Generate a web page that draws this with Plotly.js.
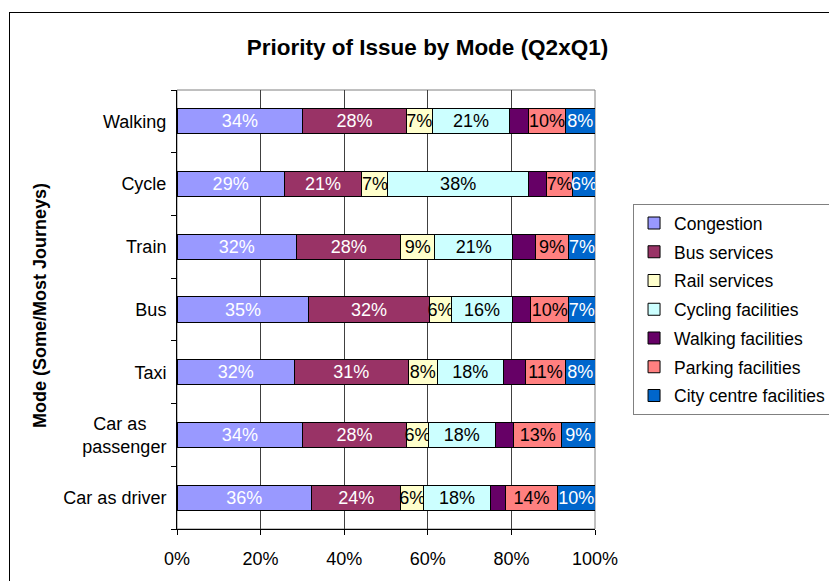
<!DOCTYPE html>
<html>
<head>
<meta charset="utf-8">
<script src="https://cdn.plot.ly/plotly-3.0.1.min.js"></script>
<style>
  html, body { margin: 0; padding: 0; overflow: hidden; background: #fff; }
  #chart { width: 829px; height: 581px; position: absolute; left: 0; top: 0; }
  #frame { position: absolute; left: 9px; top: 12px; width: 1000px; height: 1000px;
           border: 1px solid #000; pointer-events: none; z-index: 10; }
</style>
</head>
<body>
<div id="chart"></div>
<div id="frame"></div>
<script>
// Categories (bottom to top)
const modes = ['Car as driver', 'Car as\u00a0\u00a0\u00a0\u00a0<br>passenger', 'Taxi', 'Bus', 'Train', 'Cycle', 'Walking'];

// Series values (%)
const congestion        = [36, 34, 32, 35, 32, 29, 34];
const busServices       = [24, 28, 31, 32, 28, 21, 28];
const railServices      = [6, 6, 8, 6, 9, 7, 7];
const cyclingFacilities = [18, 18, 18, 16, 21, 38, 21];
const walkingFacilities = [4, 5, 6, 5, 6, 5, 5];
const parkingFacilities = [14, 13, 11, 10, 9, 7, 10];
const cityCentre        = [10, 9, 8, 7, 7, 6, 8];

const xTicks = [0, 20, 40, 60, 80, 100];

const FONT = 'Liberation Sans, Arial, sans-serif';

function mk(name, vals, color, textColor, showText) {
  return {
    type: 'bar',
    orientation: 'h',
    name: name,
    legendgroup: name,
    y: modes,
    x: vals,
    text: showText ? vals.map(v => v + '%') : vals.map(() => ''),
    textposition: 'inside',
    insidetextanchor: 'middle',
    textangle: 0,
    constraintext: 'none',
    textfont: { family: FONT, size: 18, color: textColor },
    marker: { color: color, line: { color: '#000', width: 1 } },
    hoverinfo: 'skip'
  };
}

const data = [
  mk('Congestion', congestion, '#9999FF', '#ffffff', true),
  mk('Bus services', busServices, '#993366', '#ffffff', true),
  mk('Rail services', railServices, '#FFFFCC', '#000000', true),
  mk('Cycling facilities', cyclingFacilities, '#CCFFFF', '#000000', true),
  mk('Walking facilities', walkingFacilities, '#660066', '#ffffff', false),
  mk('Parking facilities', parkingFacilities, '#FF8080', '#000000', true),
  mk('City centre facilities', cityCentre, '#0066CC', '#ffffff', true)
];

const layout = {
  width: 829,
  height: 581,
  margin: { l: 177, r: 234, t: 90, b: 52, pad: 0, autoexpand: false },
  paper_bgcolor: '#ffffff',
  plot_bgcolor: '#ffffff',
  font: { family: FONT, size: 18, color: '#000' },
  barmode: 'stack',
  barnorm: 'percent',
  bargap: 0.6,
  showlegend: true,
  title: {
    text: '<b>Priority of Issue by Mode (Q2xQ1)</b>',
    font: { family: FONT, size: 22.5, color: '#000' },
    xref: 'container', x: 0.5157, xanchor: 'center',
    yref: 'container', y: 0.919, yanchor: 'middle'
  },
  xaxis: {
    range: [0, 100],
    tickvals: xTicks,
    ticktext: xTicks.map(v => v + '%'),
    ticks: 'outside',
    ticklen: 5,
    tickcolor: '#000',
    ticklabelstandoff: 8,
    showline: true,
    linecolor: '#000',
    linewidth: 1,
    showgrid: true,
    gridcolor: '#404040',
    gridwidth: 1,
    zeroline: false,
    fixedrange: true,
    automargin: false,
    tickfont: { family: FONT, size: 18, color: '#000' }
  },
  yaxis: {
    type: 'category',
    tickson: 'boundaries',
    ticks: 'outside',
    ticklen: 5,
    tickcolor: '#000',
    ticklabelstandoff: 6,
    showline: true,
    linecolor: '#000',
    linewidth: 1,
    showgrid: false,
    zeroline: false,
    fixedrange: true,
    automargin: false,
    tickfont: { family: FONT, size: 18, color: '#000' }
  },
  legend: {
    x: 1.091, xref: 'paper', xanchor: 'left',
    y: 0.74, yref: 'paper', yanchor: 'top',
    traceorder: 'grouped',
    tracegroupgap: 3,
    bgcolor: '#ffffff',
    bordercolor: '#808080',
    borderwidth: 1,
    font: { family: FONT, size: 17.5, color: '#000' }
  },
  shapes: [
    { type: 'rect', xref: 'paper', yref: 'paper', x0: 0, x1: 1, y0: 0, y1: 1,
      line: { color: '#808080', width: 1 }, layer: 'below' }
  ],
  annotations: [
    {
      text: '<b>Mode (Some/Most Journeys)</b>',
      textangle: -90,
      xref: 'paper', yref: 'paper',
      x: -0.3278, y: 0.51,
      xanchor: 'center', yanchor: 'middle',
      showarrow: false,
      font: { family: FONT, size: 18, color: '#000' }
    }
  ]
};

Plotly.newPlot('chart', data, layout, { displayModeBar: false, staticPlot: true });
</script>
</body>
</html>
